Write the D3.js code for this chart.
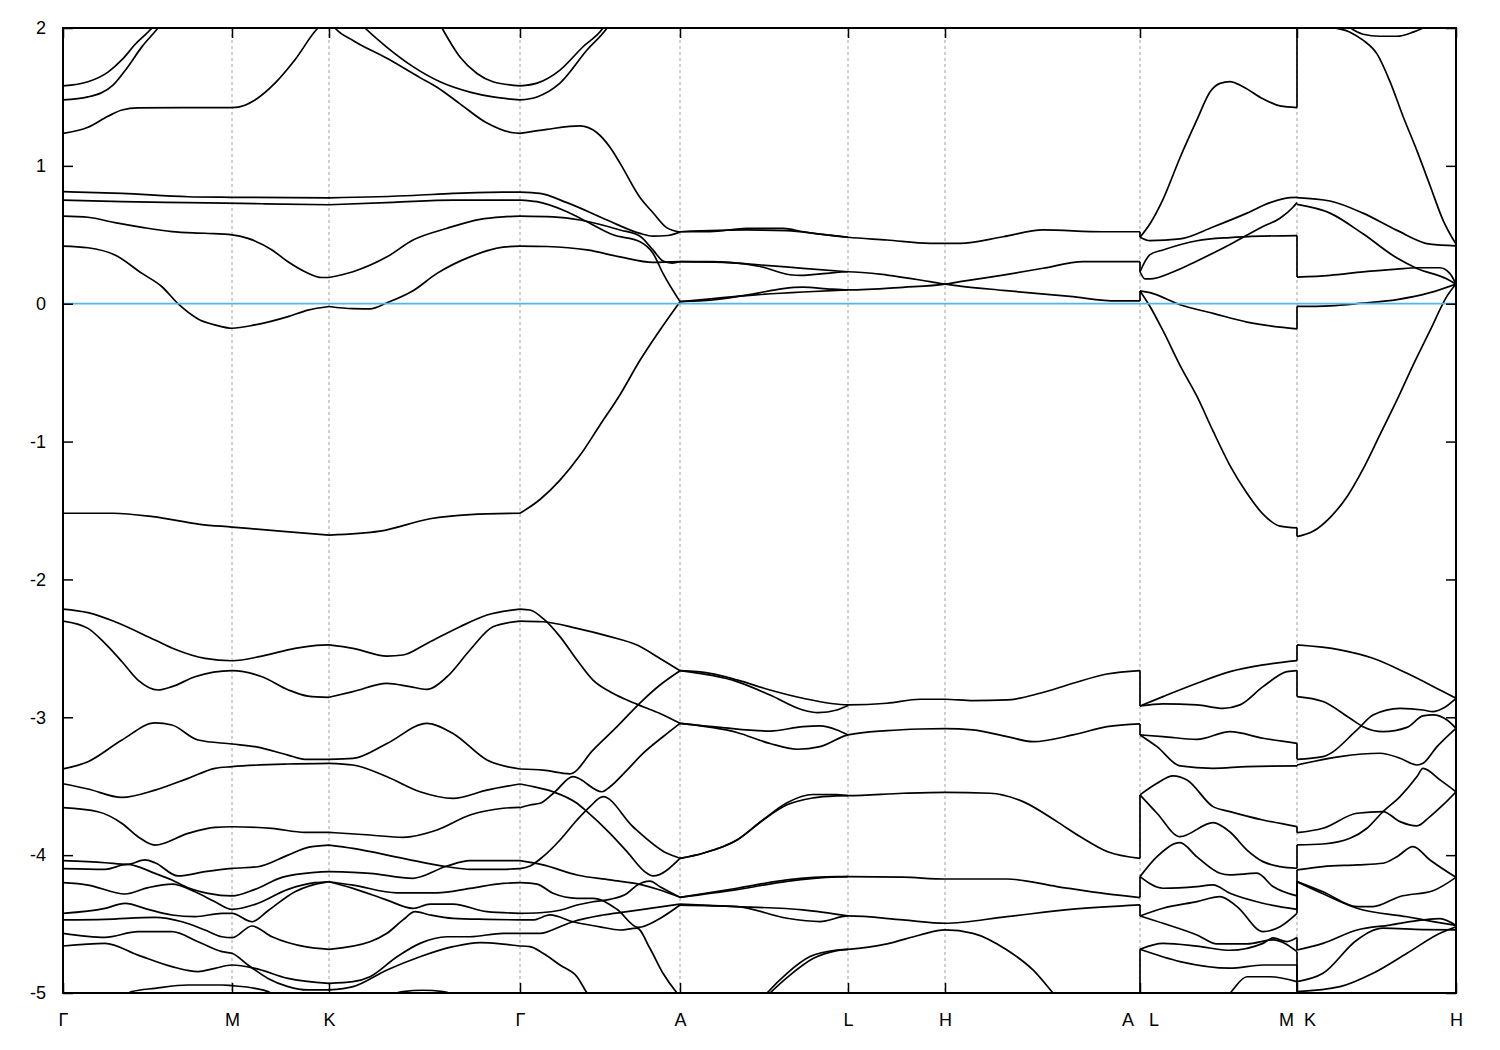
<!DOCTYPE html>
<html><head><meta charset="utf-8">
<script src="https://cdn.jsdelivr.net/npm/d3@7"></script>
<style>
body{margin:0;background:#fff}
text{font-family:"Liberation Sans",Arial,sans-serif;font-size:18px;fill:#000}
</style>
</head><body><svg id="c" width="1500" height="1050"></svg>
<script>
// k-path tick positions (path length, arbitrary units) and labels
const kTicks = [0, 1.69, 2.66, 4.57, 6.17, 7.85, 8.82, 10.77, 12.34, 13.93];
const kLabels = ["\u0393","M","K","\u0393","A","L","H","A\u00a0\u00a0\u00a0L","M\u00a0\u00a0K","H"];
const eTicks = [-5,-4,-3,-2,-1,0,1,2];

// bands: each line is a list of [k, E(eV)]
const bandsGMK = [
 [[0,1.58],[0.25,1.61],[0.45,1.68],[0.59,1.77],[0.72,1.88],[0.89,2.0],[1.05,2.15],[1.2,2.3]],
 [[0,1.478],[0.25,1.50],[0.50,1.585],[0.64,1.71],[0.79,1.865],[0.95,2.0],[1.1,2.15],[1.25,2.3]],
 [[0,1.236],[0.25,1.28],[0.45,1.36],[0.59,1.405],[0.75,1.42],[1.2,1.422],[1.69,1.422],[1.82,1.44],[1.92,1.478],[2.12,1.60],[2.32,1.77],[2.55,2.0],[2.66,2.06]],
 [[0,0.813],[0.59,0.80],[1.25,0.776],[1.69,0.772],[2.66,0.768]],
 [[0,0.752],[0.59,0.74],[1.25,0.733],[2.0,0.725],[2.66,0.718]],
 [[0,0.636],[0.25,0.627],[0.52,0.588],[0.79,0.554],[1.09,0.523],[1.42,0.511],[1.69,0.50],[1.85,0.474],[2.09,0.39],[2.25,0.304],[2.42,0.232],[2.59,0.19],[2.66,0.19]],
 [[0,0.418],[0.25,0.406],[0.52,0.353],[0.79,0.22],[0.99,0.123],[1.15,0.0],[1.35,-0.11],[1.52,-0.154],[1.69,-0.178],[1.92,-0.154],[2.25,-0.094],[2.45,-0.046],[2.66,-0.02]],
 [[0,-1.52],[0.5,-1.52],[0.9,-1.545],[1.37,-1.60],[1.69,-1.62],[2.17,-1.65],[2.66,-1.678]],
 [[0,-2.215],[0.25,-2.241],[0.52,-2.307],[0.92,-2.44],[1.12,-2.507],[1.42,-2.573],[1.69,-2.59],[1.99,-2.556],[2.32,-2.50],[2.59,-2.476],[2.66,-2.475]],
 [[0,-2.302],[0.25,-2.355],[0.42,-2.464],[0.59,-2.597],[0.75,-2.73],[0.95,-2.802],[1.09,-2.778],[1.32,-2.706],[1.69,-2.662],[1.99,-2.706],[2.25,-2.80],[2.45,-2.846],[2.66,-2.855]],
 [[0,-3.375],[0.25,-3.322],[0.59,-3.165],[0.92,-3.04],[1.09,-3.056],[1.35,-3.165],[1.69,-3.194],[1.92,-3.213],[2.25,-3.274],[2.42,-3.305],[2.66,-3.305]],
 [[0,-3.482],[0.25,-3.52],[0.59,-3.581],[0.92,-3.528],[1.25,-3.443],[1.52,-3.37],[1.69,-3.358],[2.25,-3.339],[2.66,-3.334]],
 [[0,-3.656],[0.35,-3.685],[0.59,-3.77],[0.75,-3.866],[0.92,-3.927],[1.25,-3.842],[1.52,-3.799],[1.69,-3.794],[2.09,-3.806],[2.42,-3.835],[2.66,-3.835]],
 [[0,-4.04],[0.42,-4.055],[0.64,-4.067],[0.82,-4.035],[0.92,-4.055],[1.15,-4.151],[1.42,-4.12],[1.69,-4.096],[1.95,-4.084],[2.25,-4.0],[2.45,-3.944],[2.66,-3.927]],
 [[0,-4.098],[0.42,-4.103],[0.64,-4.067],[0.92,-4.132],[1.09,-4.18],[1.25,-4.236],[1.45,-4.277],[1.69,-4.296],[1.92,-4.248],[2.19,-4.161],[2.42,-4.132],[2.66,-4.12]],
 [[0,-4.20],[0.25,-4.217],[0.62,-4.282],[0.85,-4.236],[1.09,-4.21],[1.32,-4.265],[1.52,-4.338],[1.69,-4.393],[1.92,-4.357],[2.25,-4.248],[2.52,-4.20],[2.66,-4.193]],
 [[0,-4.422],[0.42,-4.386],[0.62,-4.35],[0.85,-4.393],[1.09,-4.434],[1.32,-4.446],[1.59,-4.422],[1.69,-4.422],[1.89,-4.483],[2.05,-4.403],[2.32,-4.265],[2.62,-4.197],[2.66,-4.193]],
 [[0,-4.47],[0.42,-4.466],[0.92,-4.451],[1.19,-4.483],[1.42,-4.543],[1.59,-4.592],[1.69,-4.599],[1.89,-4.514],[2.09,-4.592],[2.42,-4.664],[2.66,-4.683]],
 [[0,-4.567],[0.42,-4.596],[0.75,-4.555],[1.09,-4.555],[1.35,-4.628],[1.59,-4.70],[1.69,-4.712],[1.85,-4.797],[2.05,-4.894],[2.25,-4.954],[2.45,-4.978],[2.66,-4.978]],
 [[0,-4.659],[0.42,-4.64],[0.75,-4.725],[1.09,-4.809],[1.35,-4.845],[1.52,-4.821],[1.69,-4.797],[1.92,-4.821],[2.25,-4.894],[2.66,-4.93]],
 [[0.55,-5.06],[0.69,-4.99],[0.92,-4.966],[1.25,-4.942],[1.59,-4.942],[1.69,-4.947],[1.92,-4.966],[2.05,-4.99],[2.2,-5.06]]
];

const bandsKG = [
 [[2.66,2.06],[2.72,2.0],[2.90,1.91],[3.24,1.78],[3.57,1.64],[3.74,1.57],[3.97,1.45],[4.24,1.31],[4.50,1.24],[4.57,1.236]],
 [[2.66,2.3],[3.02,2.0],[3.24,1.86],[3.50,1.72],[3.77,1.61],[4.07,1.535],[4.30,1.50],[4.57,1.478]],
 [[3.55,2.35],[3.79,2.0],[3.97,1.79],[4.14,1.67],[4.30,1.61],[4.57,1.58]],
 [[2.66,0.768],[3.5,0.785],[3.90,0.80],[4.40,0.81],[4.57,0.81]],
 [[2.66,0.718],[3.3,0.735],[3.90,0.752],[4.57,0.752]],
 [[2.66,0.19],[2.90,0.232],[3.24,0.34],[3.50,0.462],[3.84,0.547],[4.17,0.612],[4.40,0.63],[4.57,0.636]],
 [[2.66,-0.02],[2.90,-0.036],[3.07,-0.037],[3.24,0.007],[3.50,0.094],[3.74,0.22],[4.07,0.34],[4.40,0.41],[4.57,0.418]],
 [[2.66,-1.678],[3.17,-1.65],[3.67,-1.56],[4.07,-1.53],[4.57,-1.52]],
 [[2.66,-2.475],[2.90,-2.50],[3.24,-2.556],[3.40,-2.548],[3.64,-2.464],[3.97,-2.343],[4.24,-2.258],[4.57,-2.215]],
 [[2.66,-2.855],[2.90,-2.814],[3.24,-2.754],[3.47,-2.778],[3.64,-2.797],[3.84,-2.706],[4.07,-2.512],[4.30,-2.343],[4.57,-2.302]],
 [[2.66,-3.305],[2.90,-3.298],[3.24,-3.19],[3.64,-3.044],[3.90,-3.117],[4.24,-3.31],[4.57,-3.375]],
 [[2.66,-3.334],[2.90,-3.346],[3.24,-3.431],[3.57,-3.54],[3.90,-3.588],[4.24,-3.528],[4.57,-3.484]],
 [[2.66,-3.835],[3.07,-3.854],[3.40,-3.871],[3.74,-3.818],[4.07,-3.709],[4.40,-3.66],[4.57,-3.653]],
 [[2.66,-3.927],[2.90,-3.951],[3.40,-4.023],[3.84,-4.084],[4.07,-4.103],[4.40,-4.103],[4.57,-4.098]],
 [[2.66,-4.12],[3.07,-4.132],[3.50,-4.168],[3.84,-4.079],[4.07,-4.04],[4.57,-4.04]],
 [[2.66,-4.193],[2.90,-4.217],[3.34,-4.273],[3.74,-4.273],[4.07,-4.241],[4.40,-4.205],[4.57,-4.20]],
 [[2.66,-4.193],[2.90,-4.241],[3.24,-4.326],[3.50,-4.386],[3.67,-4.355],[3.90,-4.355],[4.24,-4.41],[4.57,-4.422]],
 [[2.66,-4.683],[3.07,-4.628],[3.24,-4.567],[3.40,-4.47],[3.52,-4.41],[3.67,-4.434],[3.90,-4.459],[4.24,-4.466],[4.57,-4.47]],
 [[2.66,-4.93],[2.90,-4.918],[3.07,-4.882],[3.34,-4.737],[3.57,-4.64],[3.84,-4.592],[4.07,-4.592],[4.40,-4.567],[4.57,-4.567]],
 [[2.66,-4.978],[2.90,-4.954],[3.24,-4.833],[3.57,-4.737],[3.90,-4.664],[4.17,-4.635],[4.40,-4.645],[4.57,-4.659]],
 [[3.07,-5.08],[3.40,-4.99],[3.60,-4.98],[3.80,-4.99],[4.1,-5.08]]
];

const bandsGA = [
 [[4.57,1.236],[4.84,1.265],[5.17,1.29],[5.34,1.24],[5.47,1.135],[5.57,1.02],[5.77,0.77],[5.90,0.66],[6.04,0.55],[6.17,0.52]],
 [[4.57,1.478],[4.74,1.50],[4.97,1.60],[5.24,1.84],[5.44,2.0],[5.6,2.2]],
 [[4.57,1.58],[4.74,1.60],[4.97,1.695],[5.20,1.864],[5.40,2.0],[5.55,2.2]],
 [[4.57,0.81],[4.77,0.80],[5.04,0.733],[5.44,0.607],[5.77,0.51],[5.90,0.49],[6.05,0.495],[6.17,0.52]],
 [[4.57,0.752],[4.74,0.74],[5.04,0.667],[5.24,0.595],[5.50,0.50],[5.77,0.45],[5.90,0.366],[6.00,0.22],[6.17,0.015]],
 [[4.57,0.636],[4.90,0.63],[5.17,0.607],[5.57,0.535],[5.77,0.49],[5.90,0.39],[6.00,0.31],[6.09,0.295],[6.17,0.305]],
 [[4.57,0.418],[4.84,0.415],[5.24,0.39],[5.57,0.34],[5.90,0.30],[6.17,0.305]],
 [[4.57,-1.52],[4.77,-1.42],[4.97,-1.28],[5.17,-1.10],[5.37,-0.88],[5.57,-0.66],[5.77,-0.41],[5.97,-0.19],[6.17,0.015]],
 [[4.57,-2.215],[4.67,-2.222],[4.80,-2.283],[4.97,-2.415],[5.14,-2.585],[5.30,-2.73],[5.47,-2.815],[5.64,-2.875],[5.80,-2.923],[5.97,-2.972],[6.17,-3.044]],
 [[4.57,-2.302],[4.80,-2.307],[5.14,-2.355],[5.47,-2.415],[5.74,-2.476],[5.97,-2.573],[6.17,-2.662]],
 [[4.57,-3.375],[4.80,-3.383],[5.07,-3.41],[5.30,-3.238],[5.54,-3.068],[5.80,-2.875],[5.97,-2.766],[6.17,-2.662]],
 [[4.57,-3.484],[4.70,-3.503],[4.90,-3.54],[5.14,-3.624],[5.24,-3.685],[5.47,-3.842],[5.64,-3.975],[5.84,-4.132],[5.90,-4.151],[6.17,-4.023]],
 [[4.57,-3.656],[4.67,-3.636],[4.77,-3.624],[4.92,-3.54],[5.10,-3.431],[5.39,-3.54],[5.47,-3.504],[5.64,-3.383],[5.80,-3.262],[6.00,-3.141],[6.17,-3.044]],
 [[4.57,-4.098],[4.67,-4.079],[4.80,-4.011],[4.97,-3.89],[5.14,-3.745],[5.27,-3.648],[5.40,-3.576],[5.70,-3.794],[6.04,-3.987],[6.17,-4.023]],
 [[4.57,-4.04],[4.80,-4.071],[5.14,-4.144],[5.47,-4.18],[5.80,-4.217],[5.97,-4.253],[6.17,-4.306]],
 [[4.57,-4.20],[4.74,-4.21],[4.90,-4.277],[5.14,-4.313],[5.30,-4.313],[5.54,-4.393],[5.75,-4.524],[5.97,-4.459],[6.17,-4.362]],
 [[4.57,-4.422],[4.77,-4.418],[4.97,-4.40],[5.14,-4.362],[5.30,-4.338],[5.47,-4.321],[5.64,-4.278],[5.74,-4.218],[5.87,-4.188],[5.97,-4.229],[6.17,-4.306]],
 [[4.57,-4.47],[4.70,-4.47],[4.87,-4.434],[5.10,-4.483],[5.37,-4.52],[5.57,-4.543],[5.74,-4.53],[5.87,-4.677],[6.00,-4.857],[6.14,-5.0],[6.2,-5.05]],
 [[4.57,-4.567],[4.77,-4.567],[4.97,-4.519],[5.10,-4.483],[5.40,-4.434],[5.64,-4.41],[5.87,-4.386],[6.17,-4.355]],
 [[4.57,-4.659],[4.67,-4.664],[4.80,-4.712],[4.97,-4.797],[5.14,-4.882],[5.24,-5.0],[5.3,-5.06]]
];

const bandsALHA = [
 [[6.17,0.522],[6.47,0.522],[6.84,0.547],[7.20,0.547],[7.40,0.522],[7.74,0.49],[7.85,0.482],[8.24,0.462],[8.67,0.438],[8.82,0.438],[8.97,0.438],[9.40,0.486],[9.80,0.535],[10.40,0.522],[10.77,0.522]],
 [[6.17,0.522],[6.84,0.535],[7.24,0.53],[7.57,0.505],[7.85,0.482]],
 [[6.17,0.305],[6.47,0.305],[6.67,0.30],[6.97,0.27],[7.27,0.21],[7.37,0.205],[7.64,0.22],[7.85,0.232],[8.24,0.208],[8.67,0.16],[8.82,0.142],[8.97,0.128],[9.40,0.097],[10.07,0.053],[10.54,0.02],[10.77,0.02]],
 [[6.17,0.305],[6.60,0.30],[6.90,0.285],[7.40,0.257],[7.85,0.232]],
 [[6.17,0.015],[6.50,0.027],[6.90,0.07],[7.20,0.11],[7.40,0.12],[7.64,0.108],[7.85,0.10],[8.40,0.119],[8.82,0.142],[8.97,0.16],[9.40,0.208],[9.80,0.257],[10.20,0.305],[10.77,0.305]],
 [[6.17,0.015],[6.90,0.063],[7.40,0.085],[7.85,0.10]],
 [[6.17,-2.662],[6.47,-2.681],[6.74,-2.729],[7.07,-2.802],[7.40,-2.862],[7.85,-2.91],[8.24,-2.898],[8.57,-2.869],[8.82,-2.869],[9.10,-2.879],[9.44,-2.874],[9.77,-2.826],[10.10,-2.753],[10.44,-2.686],[10.77,-2.661]],
 [[6.17,-2.662],[6.74,-2.741],[7.07,-2.838],[7.40,-2.947],[7.55,-2.966],[7.74,-2.947],[7.85,-2.915]],
 [[6.17,-3.044],[6.74,-3.11],[7.07,-3.19],[7.34,-3.232],[7.57,-3.213],[7.85,-3.128],[8.24,-3.097],[8.57,-3.085],[8.82,-3.082],[9.10,-3.092],[9.44,-3.14],[9.70,-3.177],[10.10,-3.128],[10.44,-3.068],[10.77,-3.048]],
 [[6.17,-3.044],[6.57,-3.073],[7.07,-3.10],[7.40,-3.068],[7.57,-3.063],[7.74,-3.092],[7.85,-3.128]],
 [[6.17,-4.023],[6.40,-3.986],[6.74,-3.89],[7.00,-3.745],[7.24,-3.62],[7.50,-3.56],[7.74,-3.561],[7.85,-3.568],[8.40,-3.551],[8.82,-3.544],[9.27,-3.551],[9.60,-3.612],[9.94,-3.757],[10.17,-3.865],[10.44,-3.974],[10.77,-4.023]],
 [[6.17,-4.023],[6.40,-3.986],[6.74,-3.89],[7.00,-3.745],[7.24,-3.635],[7.50,-3.585],[7.74,-3.57],[7.85,-3.568]],
 [[6.17,-4.306],[6.74,-4.24],[7.24,-4.18],[7.74,-4.156],[7.85,-4.156],[8.40,-4.16],[8.82,-4.173],[9.44,-4.173],[9.94,-4.228],[10.44,-4.281],[10.77,-4.308]],
 [[6.17,-4.306],[6.74,-4.25],[7.24,-4.19],[7.74,-4.158],[7.85,-4.156]],
 [[6.17,-4.362],[6.74,-4.373],[7.24,-4.458],[7.57,-4.482],[7.85,-4.441],[8.40,-4.47],[8.82,-4.494],[9.44,-4.446],[10.10,-4.392],[10.77,-4.361]],
 [[6.17,-4.355],[6.74,-4.373],[7.40,-4.397],[7.85,-4.441]],
 [[6.98,-5.05],[7.04,-5.0],[7.24,-4.857],[7.47,-4.736],[7.74,-4.688],[7.85,-4.683],[8.24,-4.644],[8.57,-4.579],[8.82,-4.542],[9.10,-4.567],[9.44,-4.688],[9.70,-4.833],[9.90,-5.0],[9.97,-5.06]],
 [[7.00,-5.05],[7.07,-5.0],[7.27,-4.87],[7.50,-4.75],[7.74,-4.692],[7.85,-4.683]]
];

const bandsLM = [
 [[10.77,0.482],[10.87,0.58],[11.00,0.757],[11.17,1.059],[11.34,1.335],[11.47,1.536],[11.57,1.598],[11.67,1.611],[11.80,1.574],[12.00,1.486],[12.17,1.435],[12.34,1.423]],
 [[10.77,0.482],[10.87,0.457],[11.17,0.47],[11.50,0.557],[11.84,0.657],[12.07,0.733],[12.27,0.77],[12.34,0.772]],
 [[10.77,0.232],[10.87,0.356],[11.00,0.39],[11.34,0.457],[11.67,0.48],[12.00,0.49],[12.34,0.494]],
 [[10.77,0.232],[10.82,0.18],[10.87,0.18],[11.10,0.23],[11.34,0.31],[11.67,0.43],[12.00,0.56],[12.17,0.62],[12.30,0.70],[12.34,0.733]],
 [[10.77,0.093],[10.87,0.08],[11.17,-0.008],[11.50,-0.07],[11.84,-0.133],[12.17,-0.17],[12.34,-0.183]],
 [[10.77,0.093],[10.87,-0.02],[11.00,-0.196],[11.17,-0.447],[11.34,-0.673],[11.50,-0.923],[11.67,-1.174],[11.84,-1.375],[12.00,-1.526],[12.17,-1.613],[12.34,-1.626]],
 [[10.77,-2.918],[11.00,-2.85],[11.34,-2.753],[11.67,-2.669],[12.00,-2.62],[12.34,-2.589]],
 [[10.77,-2.918],[11.00,-2.903],[11.34,-2.91],[11.60,-2.935],[11.77,-2.91],[12.00,-2.778],[12.24,-2.669],[12.34,-2.661]],
 [[10.77,-3.128],[11.00,-3.14],[11.34,-3.16],[11.67,-3.104],[12.00,-3.152],[12.34,-3.189]],
 [[10.77,-3.128],[10.94,-3.213],[11.17,-3.353],[11.50,-3.37],[11.84,-3.358],[12.34,-3.353]],
 [[10.77,-3.563],[10.94,-3.479],[11.10,-3.425],[11.24,-3.455],[11.50,-3.648],[11.67,-3.684],[12.00,-3.745],[12.34,-3.793]],
 [[10.77,-3.563],[10.94,-3.696],[11.17,-3.866],[11.50,-3.764],[11.67,-3.832],[11.84,-3.963],[12.00,-4.047],[12.17,-4.083],[12.34,-4.095]],
 [[10.77,-4.156],[10.94,-4.011],[11.17,-3.909],[11.34,-4.013],[11.57,-4.131],[11.67,-4.143],[11.94,-4.131],[12.10,-4.228],[12.34,-4.296]],
 [[10.77,-4.156],[11.00,-4.24],[11.34,-4.228],[11.50,-4.216],[11.67,-4.277],[12.00,-4.349],[12.34,-4.393]],
 [[10.77,-4.441],[11.00,-4.385],[11.34,-4.337],[11.57,-4.301],[11.74,-4.373],[12.00,-4.555],[12.17,-4.519],[12.34,-4.422]],
 [[10.77,-4.441],[11.00,-4.494],[11.34,-4.579],[11.54,-4.644],[11.84,-4.644],[12.10,-4.615],[12.34,-4.70]],
 [[10.77,-4.683],[11.00,-4.64],[11.34,-4.66],[11.67,-4.69],[12.00,-4.64],[12.10,-4.60],[12.24,-4.627],[12.34,-4.598]],
 [[10.77,-4.683],[11.17,-4.772],[11.67,-4.82],[12.00,-4.797],[12.34,-4.797]],
 [[11.60,-5.05],[11.67,-5.0],[11.84,-4.882],[12.07,-4.882],[12.34,-4.917]]
];

const bandsKH = [
 [[12.34,0.77],[12.67,0.745],[13.00,0.657],[13.34,0.532],[13.67,0.432],[13.93,0.42]],
 [[12.34,0.72],[12.67,0.657],[13.00,0.507],[13.34,0.331],[13.54,0.256],[13.84,0.18],[13.93,0.143]],
 [[12.34,0.193],[12.67,0.206],[13.00,0.231],[13.34,0.251],[13.54,0.261],[13.77,0.261],[13.87,0.218],[13.93,0.143]],
 [[12.34,-0.02],[12.67,-0.015],[13.00,0.005],[13.34,0.03],[13.67,0.08],[13.93,0.143]],
 [[12.34,-1.689],[12.50,-1.651],[12.67,-1.551],[12.84,-1.40],[13.00,-1.20],[13.17,-0.949],[13.34,-0.698],[13.50,-0.447],[13.67,-0.196],[13.84,0.055],[13.93,0.143]],
 [[12.34,2.1],[12.60,2.02],[12.87,1.97],[13.00,1.912],[13.14,1.812],[13.27,1.611],[13.40,1.36],[13.54,1.109],[13.67,0.858],[13.80,0.607],[13.93,0.432]],
 [[12.74,2.08],[13.00,1.955],[13.17,1.94],[13.34,1.94],[13.50,1.97],[13.60,2.0],[13.7,2.05]],
 [[12.34,-2.475],[12.77,-2.511],[13.10,-2.572],[13.44,-2.681],[13.77,-2.802],[13.93,-2.862]],
 [[12.34,-2.85],[12.60,-2.886],[12.87,-3.007],[13.00,-3.068],[13.20,-3.104],[13.44,-3.073],[13.60,-2.99],[13.70,-2.983],[13.84,-3.02],[13.93,-3.08]],
 [[12.34,-3.305],[12.60,-3.285],[12.94,-3.092],[13.10,-2.983],[13.37,-2.935],[13.60,-2.947],[13.70,-2.959],[13.80,-2.935],[13.93,-2.862]],
 [[12.34,-3.346],[12.77,-3.285],[13.17,-3.261],[13.37,-3.297],[13.54,-3.346],[13.60,-3.334],[13.74,-3.213],[13.93,-3.08]],
 [[12.34,-3.837],[12.60,-3.805],[12.94,-3.696],[13.20,-3.684],[13.37,-3.757],[13.54,-3.788],[13.67,-3.72],[13.80,-3.636],[13.93,-3.54]],
 [[12.34,-3.926],[12.60,-3.919],[12.87,-3.878],[13.04,-3.805],[13.20,-3.684],[13.37,-3.575],[13.54,-3.43],[13.60,-3.37],[13.77,-3.454],[13.93,-3.54]],
 [[12.34,-4.107],[12.60,-4.083],[12.94,-4.071],[13.20,-4.059],[13.34,-4.011],[13.50,-3.938],[13.67,-4.035],[13.93,-4.161]],
 [[12.34,-4.192],[12.60,-4.266],[12.94,-4.373],[13.10,-4.373],[13.37,-4.30],[13.70,-4.258],[13.93,-4.161]],
 [[12.34,-4.192],[12.60,-4.28],[12.94,-4.385],[13.44,-4.447],[13.70,-4.482],[13.93,-4.51]],
 [[12.34,-4.688],[12.60,-4.64],[12.94,-4.543],[13.27,-4.507],[13.60,-4.47],[13.77,-4.46],[13.93,-4.51]],
 [[12.34,-4.917],[12.60,-4.857],[12.94,-4.615],[13.20,-4.53],[13.60,-4.54],[13.93,-4.542]],
 [[12.34,-4.99],[12.77,-4.954],[13.10,-4.857],[13.44,-4.712],[13.77,-4.567],[13.93,-4.52]]
];

// vertical connections at the path discontinuities A|L and M|K: [E before, E after]
const jumpsAL = [[0.522,0.482],[0.305,0.232],[0.02,0.093],[-2.661,-2.918],[-3.048,-3.128],[-4.023,-3.563],[-4.308,-4.156],[-4.361,-4.441],[-5.1,-4.683]];
const jumpsMK = [[1.423,2.1],[0.494,0.193],[-0.183,-0.02],[-1.626,-1.689],[-2.589,-2.475],[-2.661,-2.85],[-3.189,-3.305],[-3.353,-3.346],[-3.793,-3.837],[-4.095,-3.926],[-4.296,-4.107],[-4.393,-4.192],[-4.422,-4.192],[-4.598,-4.688],[-4.70,-4.917],[-4.797,-4.99],[-4.917,-5.1]];

const svg = d3.select("#c");
const P = {l:63, t:28, r:1456, b:993};
const x = d3.scaleLinear().domain([kTicks[0], kTicks[kTicks.length-1]]).range([P.l, P.r]);
const y = d3.scaleLinear().domain([-5, 2]).range([P.b, P.t]);

svg.append("rect").attr("width",1500).attr("height",1050).attr("fill","#fff");
svg.append("defs").append("clipPath").attr("id","clip").append("rect")
  .attr("x",P.l).attr("y",P.t).attr("width",P.r-P.l).attr("height",P.b-P.t);

// dashed grid at high-symmetry points
svg.append("g").selectAll("line").data(kTicks.slice(1,-1)).join("line")
  .attr("x1",d=>x(d)).attr("x2",d=>x(d)).attr("y1",P.t).attr("y2",P.b)
  .attr("stroke","#a0a0a0").attr("stroke-width",1).attr("stroke-dasharray","3,3");

const lineGen = d3.line().x(d=>x(d[0])).y(d=>y(d[1])).curve(d3.curveMonotoneX);
const allBands = [].concat(bandsGMK, bandsKG, bandsGA, bandsALHA, bandsLM, bandsKH);
const g = svg.append("g").attr("clip-path","url(#clip)");
g.selectAll("path.band").data(allBands).join("path").attr("class","band")
  .attr("d",lineGen).attr("fill","none").attr("stroke","#000").attr("stroke-width",1.7)
  .attr("stroke-linejoin","round");

const jumps = jumpsAL.map(p=>[kTicks[7],p[0],p[1]]).concat(jumpsMK.map(p=>[kTicks[8],p[0],p[1]]));
g.selectAll("line.jump").data(jumps).join("line").attr("class","jump")
  .attr("x1",d=>x(d[0])).attr("x2",d=>x(d[0])).attr("y1",d=>y(d[1])).attr("y2",d=>y(d[2]))
  .attr("stroke","#000").attr("stroke-width",1.7);

// Fermi level
g.append("line").attr("x1",P.l).attr("x2",P.r).attr("y1",y(0)).attr("y2",y(0))
  .attr("stroke","#56b4e9").attr("stroke-width",1.8);

// axes
function styleAxis(sel){
  sel.select(".domain").remove();
  sel.selectAll(".tick line").attr("stroke","#000").attr("stroke-width",1.5);
  sel.selectAll(".tick text").attr("fill","#000").style("font-family","'Liberation Sans',Arial,sans-serif").style("font-size","18px");
}
svg.append("g").attr("transform",`translate(0,${P.b})`)
  .call(d3.axisBottom(x).tickValues(kTicks).tickFormat((d,i)=>kLabels[i]).tickSizeInner(-10).tickSizeOuter(0).tickPadding(20))
  .call(styleAxis);
svg.append("g").attr("transform",`translate(0,${P.t})`)
  .call(d3.axisTop(x).tickValues(kTicks).tickFormat("").tickSizeInner(-10).tickSizeOuter(0))
  .call(styleAxis);
svg.append("g").attr("transform",`translate(${P.l},0)`)
  .call(d3.axisLeft(y).tickValues(eTicks).tickFormat(d=>String(d)).tickSizeInner(-10).tickSizeOuter(0).tickPadding(17))
  .call(styleAxis);
svg.append("g").attr("transform",`translate(${P.r},0)`)
  .call(d3.axisRight(y).tickValues(eTicks).tickFormat("").tickSizeInner(-10).tickSizeOuter(0))
  .call(styleAxis);

// frame
svg.append("rect").attr("x",P.l).attr("y",P.t).attr("width",P.r-P.l).attr("height",P.b-P.t)
  .attr("fill","none").attr("stroke","#000").attr("stroke-width",2);
</script>
</body></html>
